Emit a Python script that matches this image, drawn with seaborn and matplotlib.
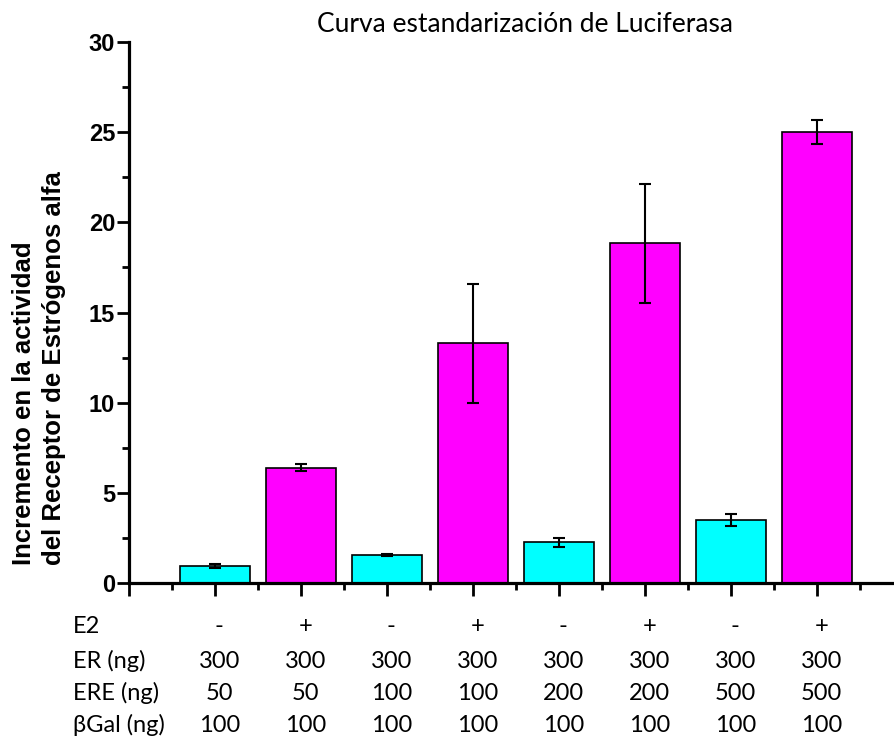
import matplotlib
matplotlib.use("Agg")
import matplotlib.pyplot as plt
from matplotlib.transforms import blended_transform_factory
import seaborn as sns
import pandas as pd

# ---- data ----
e2 = ["-", "+", "-", "+", "-", "+", "-", "+"]
er_ng = ["300", "300", "300", "300", "300", "300", "300", "300"]
ere_ng = ["50", "50", "100", "100", "200", "200", "500", "500"]
bgal_ng = ["100", "100", "100", "100", "100", "100", "100", "100"]
values = [0.95, 6.4, 1.55, 13.3, 2.25, 18.85, 3.5, 25.0]
errors = [0.13, 0.2, 0.06, 3.3, 0.25, 3.3, 0.35, 0.65]
row_labels = ["E2", "ER (ng)", "ERE (ng)", "βGal (ng)"]
title = "Curva estandarización de Luciferasa"
ylabel = "Incremento en la actividad\ndel Receptor de Estrógenos alfa"

sns.set_theme(style="white")
plt.rcParams["font.family"] = ["Liberation Sans", "DejaVu Sans"]

W, H = 895, 742
fig = plt.figure(figsize=(W / 100, H / 100), dpi=100)
ax = fig.add_axes([129 / W, 1 - 583 / H, (W - 129) / W, (583 - 42) / H])

df = pd.DataFrame({"cond": [str(i) for i in range(len(values))],
                   "val": values, "E2": e2})
sns.barplot(data=df, x="cond", y="val", hue="E2", dodge=False,
            palette={"-": "#00FFFF", "+": "#FF00FF"}, saturation=1,
            width=0.82, edgecolor="black", linewidth=1.2, errorbar=None,
            legend=False, ax=ax)
ax.errorbar(range(len(values)), values, yerr=errors, fmt="none",
            ecolor="black", elinewidth=1.5, capsize=4.5, capthick=1.5, zorder=5)

ax.set_ylim(0, 30)
ax.set_xlim(-1, (W - 129) / 86 - 1)
ax.set_xticks(range(-1, 8))
ax.set_xticklabels([])
ax.set_xticks([i + 0.5 for i in range(-1, 8)], minor=True)
ax.set_yticks(range(0, 31, 5))
ax.set_yticks([i + 2.5 for i in range(0, 30, 5)], minor=True)
ax.set_xlabel("")
ax.set_ylabel("")
for s in ["top", "right"]:
    ax.spines[s].set_visible(False)
for s in ["left", "bottom"]:
    ax.spines[s].set_linewidth(2.3)
    ax.spines[s].set_color("black")
ax.tick_params(axis="both", which="major", direction="out", length=9, width=2,
               color="black", bottom=True, left=True)
ax.tick_params(axis="both", which="minor", direction="out", length=5, width=2,
               color="black", bottom=True, left=True)
ax.tick_params(axis="y", labelsize=17, pad=1, labelcolor="black")
for t in ax.get_yticklabels():
    t.set_fontweight("bold")

fig.text(39 / W, 1 - 565 / H, ylabel, rotation=90, rotation_mode="anchor",
         ha="left", va="center", multialignment="left", fontsize=18.5,
         fontweight="bold", linespacing=1.32, color="black")

tfont = ["Lato", "DejaVu Sans"]
fig.text(525 / W, 1 - 32 / H, title, ha="center", va="baseline",
         fontsize=19, family=tfont, color="black")

trans = blended_transform_factory(ax.transData, fig.transFigure)
row_base = [633, 668, 700, 732]
rows = [e2, er_ng, ere_ng, bgal_ng]
for lab, yy, vals in zip(row_labels, row_base, rows):
    fig.text(73 / W, 1 - yy / H, lab, ha="left", va="baseline",
             fontsize=17, family=tfont, color="black")
    for i, v in enumerate(vals):
        ax.text(i + 0.05, 1 - yy / H, v, transform=trans, ha="center",
                va="baseline", fontsize=17, family=tfont, color="black")

fig.savefig("out.png", dpi=100, facecolor="white")
